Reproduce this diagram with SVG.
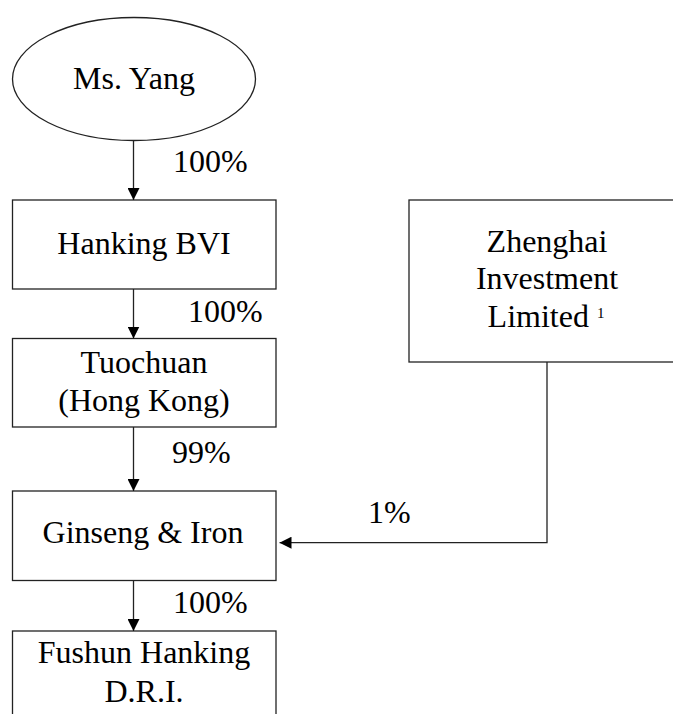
<svg xmlns="http://www.w3.org/2000/svg" width="673" height="714" viewBox="0 0 673 714">
<style>
.n{fill:#fff;stroke:#222;stroke-width:1.3}
.t{font-family:"Liberation Serif","Times New Roman",serif;font-size:32px;fill:#000;text-anchor:middle}
.l{font-family:"Liberation Serif","Times New Roman",serif;font-size:32px;fill:#000}
.c{fill:none;stroke:#222;stroke-width:1.3}
</style>
<defs>
<marker id="ah" viewBox="0 0 12 12" refX="12" refY="6" markerWidth="12" markerHeight="12" markerUnits="userSpaceOnUse" orient="auto">
<path d="M0,0 L12,6 L0,12 Z" fill="#000"/>
</marker>
</defs>
<rect width="673" height="714" fill="#fff"/>
<g id="yang">
<ellipse class="n" cx="134" cy="79" rx="121.5" ry="61.5"/>
<text class="t" x="134" y="89">Ms. Yang</text>
</g>
<g id="hanking-bvi">
<rect class="n" x="12.5" y="200" width="263.5" height="89"/>
<text class="t" x="144" y="254">Hanking BVI</text>
</g>
<g id="tuochuan">
<rect class="n" x="12.5" y="338.5" width="263.5" height="88.5"/>
<text class="t" x="144" y="372.5">Tuochuan</text>
<text class="t" x="144" y="410.5">(Hong Kong)</text>
</g>
<g id="ginseng">
<rect class="n" x="12.5" y="491" width="263.5" height="89.5"/>
<text class="t" x="143" y="543">Ginseng &amp; Iron</text>
</g>
<g id="fushun">
<rect class="n" x="12.5" y="631" width="263.5" height="100"/>
<text class="t" x="144" y="663">Fushun Hanking</text>
<text class="t" x="144" y="701.5">D.R.I.</text>
</g>
<g id="zhenghai">
<rect class="n" x="409" y="200" width="276" height="162"/>
<text class="t" x="547" y="251.5">Zhenghai</text>
<text class="t" x="547" y="289">Investment</text>
<text class="t" x="546" y="326.5">Limited <tspan font-size="15" dy="-8.5">1</tspan></text>
</g>
<g id="connectors">
<line class="c" x1="133.5" y1="140.5" x2="133.5" y2="200" marker-end="url(#ah)"/>
<line class="c" x1="133.5" y1="289" x2="133.5" y2="338.5" marker-end="url(#ah)"/>
<line class="c" x1="133.5" y1="427" x2="133.5" y2="491" marker-end="url(#ah)"/>
<line class="c" x1="133.5" y1="580.5" x2="133.5" y2="631" marker-end="url(#ah)"/>
<polyline class="c" points="547,362 547,542.7 279.5,542.7" marker-end="url(#ah)"/>
<text class="l" x="173" y="172">100%</text>
<text class="l" x="188" y="322">100%</text>
<text class="l" x="172" y="463">99%</text>
<text class="l" x="173" y="613">100%</text>
<text class="l" x="368" y="523">1%</text>
</g>
</svg>
